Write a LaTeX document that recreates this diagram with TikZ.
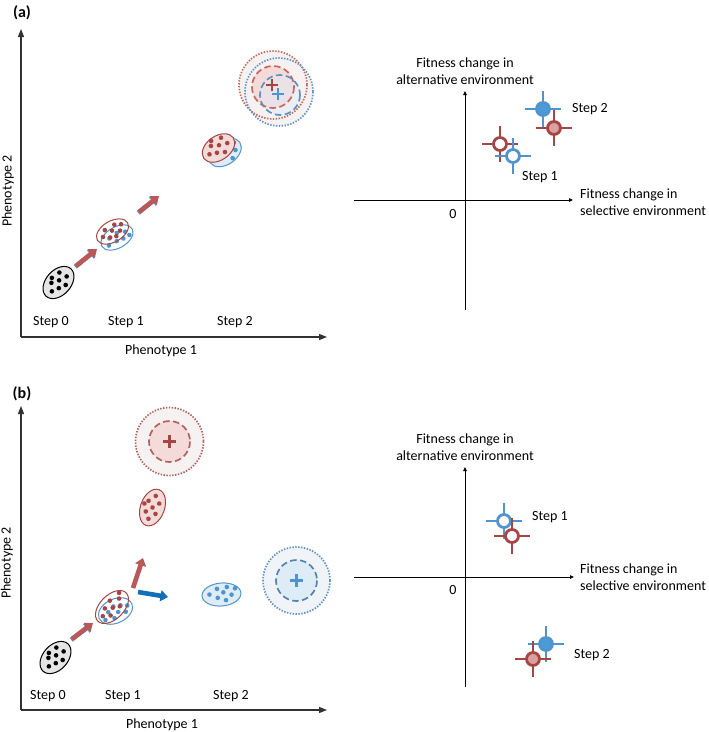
\documentclass[tikz,border=0pt]{standalone}
\usepackage{fontspec}
\setmainfont{Carlito}
\usetikzlibrary{arrows.meta,shapes.geometric}
\definecolor{redD}{RGB}{165,70,68}
\definecolor{redA}{RGB}{185,88,86}
\definecolor{redO}{RGB}{195,105,95}
\definecolor{pinkF}{RGB}{244,218,216}
\definecolor{blueD}{RGB}{80,148,205}
\definecolor{blueO}{RGB}{95,145,195}
\definecolor{blueA}{RGB}{20,112,182}
\definecolor{blueF}{RGB}{222,236,248}
\definecolor{blueM}{RGB}{75,155,215}
\definecolor{pinkM}{RGB}{218,160,158}
\definecolor{outerF}{RGB}{246,242,242}
\definecolor{outerB}{RGB}{240,244,249}
\definecolor{axisC}{RGB}{50,50,50}
\newcommand\mydots[2]{\foreach \dx/\dy in {#2}{\fill[#1] (\dx,\dy) circle [radius=2.3];}}
\tikzset{
  pics/fitmark/.style n args={3}{code={
    \draw[#1, line width=1.5pt] (-18,0) -- (18,0) (0,-18) -- (0,18);
    \draw[#2, fill=#3, line width=2.8pt] (0,0) circle [radius=6.5];
  }}
}
\begin{document}
\begin{tikzpicture}[x=1pt,y=-1pt,
  lbl/.style={font=\fontsize{14}{17.5}\selectfont, inner sep=0pt},
  plbl/.style={font=\fontsize{16}{18}\selectfont\bfseries, inner sep=0pt},
  axis/.style={line width=1.1pt, draw=axisC, -{Triangle[length=8pt,width=6pt]}},
  raxis/.style={line width=0.8pt, draw=black, -{Triangle[length=4pt,width=3.5pt]}},
  bigarrow/.style={line width=4.6pt, -{Triangle[length=7.5pt,width=11pt]}},
  dotc/.style={line width=1.7pt, dash pattern=on 1.4pt off 1.5pt},
  dashc/.style={line width=1.7pt, dash pattern=on 6.5pt off 3.5pt},
  crossr/.style={line width=2.6pt, draw=redD},
  crossb/.style={line width=2.6pt, draw=blueD}
]
\useasboundingbox (0,0) rectangle (709,732);

% ================= panel (a), left =================
\node[plbl] (pa) at (22,13) {(a)};
\coordinate (oa) at (21,337);
\coordinate (ya) at (21,29);
\coordinate (xa) at (327,337);
\draw[axis] (oa) -- (ya);
\draw[axis] (oa) -- (xa);
\node[lbl, rotate=90] (ph2a) at (8,191) {Phenotype 2};
\node[lbl] (ph1a) at (161,351) {Phenotype 1};
\node[lbl] (s0a) at (51,322) {Step 0};
\node[lbl] (s1a) at (126,322) {Step 1};
\node[lbl] (s2a) at (235,322) {Step 2};

% step 0 ellipse
\begin{scope}[shift={(58.5,282.5)}, rotate=48]
  \draw[black, fill=gray!20, line width=1pt] (0,0) ellipse [x radius=18.5, y radius=12.5];
  \mydots{black}{-11/1, -5/-5, -4/4, 2/-1, 3/7, 8/-6, 10/2, -1/-8}
\end{scope}

% arrows (a)
\coordinate (a1s) at (76,266);
\coordinate (a1e) at (97,249);
\coordinate (a2s) at (139,212);
\coordinate (a2e) at (159,196);
\draw[bigarrow, blueO, transform canvas={xshift=-0.8pt, yshift=-0.8pt}] (a1s) -- (a1e);
\draw[bigarrow, redA] (a1s) -- (a1e);
\draw[bigarrow, blueO, transform canvas={xshift=-0.8pt, yshift=-0.8pt}] (a2s) -- (a2e);
\draw[bigarrow, redA] (a2s) -- (a2e);

% step 1 ellipses (a)
\begin{scope}[shift={(117,237.5)}, rotate=30]
  \draw[blueD, line width=1pt] (0,0) ellipse [x radius=17.5, y radius=10.5];
  \mydots{blueD}{-7/-3, -2/3, 2/-4, 5/4, 10/-1, -11/3, 12/4}
\end{scope}
\begin{scope}[shift={(112.5,231.5)}, rotate=30]
  \draw[redD, line width=1pt] (0,0) ellipse [x radius=17.5, y radius=10.5];
  \mydots{redD}{-11/0, -6/-5, -5/4, 0/-1, 1/6, 5/-5, 7/3, 11/-2}
\end{scope}

% step 2 ellipses (a)
\begin{scope}[shift={(225,152.5)}, rotate=35]
  \draw[blueD, fill=blueF, line width=1pt] (0,0) ellipse [x radius=18, y radius=12];
  \mydots{blueD}{3/9, 10/4, 13/-3}
\end{scope}
\begin{scope}[shift={(218.5,148)}, rotate=35]
  \draw[redD, fill=pinkF, line width=1pt] (0,0) ellipse [x radius=18, y radius=12];
  \mydots{redD}{-11/0, -5/-6, -4/3, 2/-2, 3/7, 8/-7, 10/1, -2/-10}
\end{scope}

% optimum circles (a)
\coordinate (ra) at (273,85);
\coordinate (ba) at (279,92);
\fill[outerF] (ra) circle [radius=34];
\fill[outerF] (ba) circle [radius=34];
\draw[dotc, redO] (ra) circle [radius=34];
\draw[dotc, blueO] (ba) circle [radius=34];
\coordinate (rai) at (273,87);
\coordinate (bai) at (280,95);
\fill[pinkF] (rai) circle [radius=21];
\fill[blueF, opacity=0.45] (bai) circle [radius=20];
\draw[dashc, redO] (rai) circle [radius=21];
\draw[dashc, blueO] (bai) circle [radius=20];
\coordinate (rxa) at (272,85);
\coordinate (bxa) at (278,94);
\draw[crossr] ([xshift=-6pt]rxa) -- ([xshift=6pt]rxa) ([yshift=-6pt]rxa) -- ([yshift=6pt]rxa);
\draw[crossb] ([xshift=-6pt]bxa) -- ([xshift=6pt]bxa) ([yshift=-6pt]bxa) -- ([yshift=6pt]bxa);

% ================= panel (a), right =================
\coordinate (rxl) at (354,200);
\coordinate (rxr) at (573,200);
\coordinate (ryb) at (465,310);
\coordinate (ryt) at (465,91);
\draw[raxis] (rxl) -- (rxr);
\draw[raxis] (ryb) -- (ryt);
\node[lbl, align=center] (yla) at (465,71) {Fitness change in\\alternative environment};
\node[lbl, align=left, anchor=west] (xla) at (580,202) {Fitness change in\\selective environment};
\node[lbl] (z0a) at (453,214) {0};
\pic at (500,144) {fitmark={redD}{redD}{white}};
\pic at (513,156) {fitmark={blueD}{blueD}{white}};
\pic at (543,109) {fitmark={blueD}{blueD}{blueM}};
\pic at (554,128) {fitmark={redD}{redD}{pinkM}};
\node[lbl, anchor=west] (st2a) at (572,109) {Step 2};
\node[lbl, anchor=west] (st1a) at (522,177) {Step 1};

% ================= panel (b), left =================
\node[plbl] (pb) at (22,394) {(b)};
\coordinate (ob) at (21,710);
\coordinate (yb) at (21,406);
\coordinate (xb) at (327,710);
\draw[axis] (ob) -- (yb);
\draw[axis] (ob) -- (xb);
\node[lbl, rotate=90] (ph2b) at (7,563) {Phenotype 2};
\node[lbl] (ph1b) at (162,725) {Phenotype 1};
\node[lbl] (s0b) at (48,696) {Step 0};
\node[lbl] (s1b) at (123,696) {Step 1};
\node[lbl] (s2b) at (231,696) {Step 2};

\begin{scope}[shift={(55.5,657.5)}, rotate=48]
  \draw[black, fill=gray!20, line width=1pt] (0,0) ellipse [x radius=18.5, y radius=12.5];
  \mydots{black}{-11/1, -5/-5, -4/4, 2/-1, 3/7, 8/-6, 10/2, -1/-8}
\end{scope}

\coordinate (b1s) at (72,639);
\coordinate (b1e) at (93,623);
\draw[bigarrow, blueO, transform canvas={xshift=-0.8pt, yshift=-0.8pt}] (b1s) -- (b1e);
\draw[bigarrow, redA] (b1s) -- (b1e);
\coordinate (b2s) at (133,588);
\coordinate (b2e) at (143,558);
\draw[bigarrow, redA] (b2s) -- (b2e);
\coordinate (b3s) at (138,592);
\coordinate (b3e) at (168,597);
\draw[bigarrow, blueA] (b3s) -- (b3e);

% step 1 ellipses (b)
\begin{scope}[shift={(115.5,611)}, rotate=25]
  \draw[blueD, line width=1pt] (0,0) ellipse [x radius=18, y radius=12];
  \mydots{blueD}{-13/4, -7/-2, -4/6, 0/-5, 2/2, 7/-3, 9/5, 13/0}
\end{scope}
\begin{scope}[shift={(112,607)}, rotate=45]
  \draw[redD, line width=1pt] (0,0) ellipse [x radius=20, y radius=12];
  \mydots{redD}{-13/0, -7/5, -6/-4, 0/1, 3/-6, 6/5, 11/-1, 15/-5}
\end{scope}

% step 2 ellipses (b)
\begin{scope}[shift={(152.5,507.5)}, rotate=70]
  \draw[redD, fill=pinkF, line width=1pt] (0,0) ellipse [x radius=19, y radius=12];
  \mydots{redD}{-12/0, -6/-5, -5/5, 0/0, 5/-6, 6/5, 12/-1, 1/-9}
\end{scope}
\begin{scope}[shift={(221.5,594.5)}, rotate=5]
  \draw[blueD, fill=blueF, line width=1pt] (0,0) ellipse [x radius=19.5, y radius=11.5];
  \mydots{blueD}{-12/-1, -4/-6, -4/3, 2/-2, 6/-7, 4/6, 10/1, 14/-5}
\end{scope}

% optimum circles (b)
\coordinate (rb) at (169.5,441.5);
\fill[outerF] (rb) circle [radius=34];
\draw[dotc, redD!85] (rb) circle [radius=34];
\fill[pinkF] (rb) circle [radius=20.5];
\draw[dashc, redD!85] (rb) circle [radius=20.5];
\draw[crossr] ([xshift=-6.5pt]rb) -- ([xshift=6.5pt]rb) ([yshift=-6.5pt]rb) -- ([yshift=6.5pt]rb);

\coordinate (bb) at (296.5,580.5);
\fill[outerB] (bb) circle [radius=33.5];
\draw[dotc, blueO] (bb) circle [radius=33.5];
\fill[blueF] (bb) circle [radius=20.5];
\draw[dashc, blueO!90!black] (bb) circle [radius=20.5];
\draw[crossb] ([xshift=-6.5pt]bb) -- ([xshift=6.5pt]bb) ([yshift=-6.5pt]bb) -- ([yshift=6.5pt]bb);

% ================= panel (b), right =================
\coordinate (sxl) at (354,577);
\coordinate (sxr) at (574,577);
\coordinate (syb) at (465,687);
\coordinate (syt) at (465,467);
\draw[raxis] (sxl) -- (sxr);
\draw[raxis] (syb) -- (syt);
\node[lbl, align=center] (ylb) at (465,447) {Fitness change in\\alternative environment};
\node[lbl, align=left, anchor=west] (xlb) at (580,577) {Fitness change in\\selective environment};
\node[lbl] (z0b) at (453,590) {0};
\pic at (504,521) {fitmark={blueD}{blueD}{white}};
\pic at (512,536) {fitmark={redD}{redD}{white}};
\pic at (546,644) {fitmark={blueD}{blueD}{blueM}};
\pic at (533,659) {fitmark={redD}{redD}{pinkM}};
\node[lbl, anchor=west] (st1b) at (532,517) {Step 1};
\node[lbl, anchor=west] (st2b) at (574,655) {Step 2};
\end{tikzpicture}
\end{document}
